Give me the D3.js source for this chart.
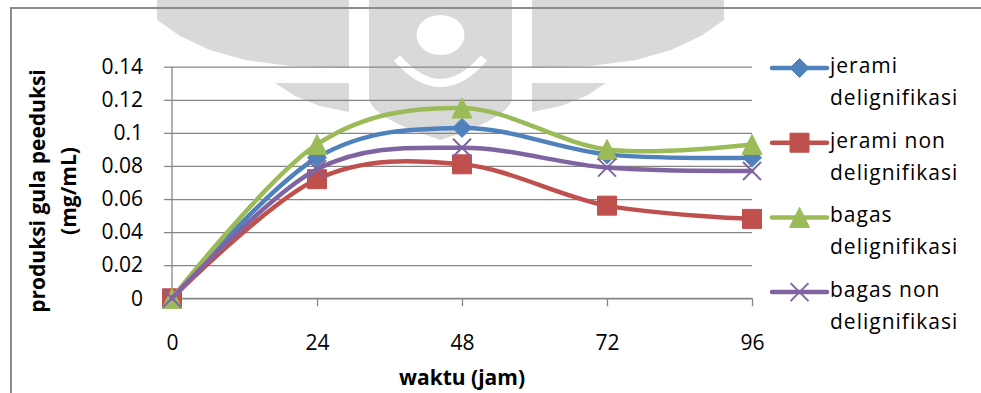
<!DOCTYPE html>
<html>
<head>
<meta charset="utf-8">
<script src="https://cdn.jsdelivr.net/npm/d3@7"></script>
<style>
  html, body { margin: 0; padding: 0; background: #fff; }
  svg { display: block; }
  text { font-family: "Open Sans", "Noto Sans", sans-serif; fill: #000; }
</style>
</head>
<body>
<div id="chart"></div>
<script>
// ---- data ----
const hours = [0, 24, 48, 72, 96];
const jeramiDelig = [0, 0.085, 0.103, 0.087, 0.085];
const jeramiNon   = [0, 0.072, 0.081, 0.056, 0.048];
const bagasDelig  = [0, 0.093, 0.115, 0.090, 0.093];
const bagasNon    = [0, 0.078, 0.091, 0.079, 0.077];
const seriesNames = [
  ['jerami', 'delignifikasi'],
  ['jerami non', 'delignifikasi'],
  ['bagas', 'delignifikasi'],
  ['bagas non', 'delignifikasi'],
];
const yTicks = [0, 0.02, 0.04, 0.06, 0.08, 0.1, 0.12, 0.14];
const xTitle = 'waktu (jam)';
const yTitle = ['produksi gula peeduksi', '(mg/mL)'];

const colors = ['#4F81BD', '#C0504D', '#9BBB59', '#8064A2'];
const markers = ['diamond', 'square', 'triangle', 'x'];
const seriesValues = [jeramiDelig, jeramiNon, bagasDelig, bagasNon];

const series = seriesValues.map((vals, i) => ({
  name: seriesNames[i],
  color: colors[i],
  marker: markers[i],
  points: vals.map((v, j) => ({ t: hours[j], v })),
}));

// ---- layout ----
const width = 981, height = 393;
const margin = { top: 66.7, right: 229, bottom: 94.7, left: 172 };
const W = width - margin.left - margin.right;
const H = height - margin.top - margin.bottom;

const x = d3.scaleLinear().domain([0, 96]).range([0, W]);
const y = d3.scaleLinear().domain([0, 0.14]).range([H, 0]);

const svg = d3.select('#chart').append('svg')
  .attr('width', width).attr('height', height);

// faint watermark behind the chart
const wm = svg.append('g').attr('fill', '#d9d9d9');
const cx = 440.5;
const mirror = pts => pts.map(([px, py]) => [2 * cx - px, py]);
const poly = pts => 'M' + pts.map(p => p.join(',')).join('L') + 'Z';
const outerWing = [[157, 0], [157, 20], [180, 36], [210, 50], [245, 60], [290, 66], [349, 68], [349, 0]];
const innerWing = [[275, 83], [349, 83], [349, 112], [320, 106], [295, 96]];
[outerWing, innerWing].forEach(p => {
  wm.append('path').attr('d', poly(p));
  wm.append('path').attr('d', poly(mirror(p)));
});
wm.append('path')
  .attr('d', 'M369,0L512,0L512,100C505,118 470,130 440.5,140C411,130 376,118 369,100Z');
wm.append('ellipse').attr('cx', cx).attr('cy', 35).attr('rx', 24).attr('ry', 20).attr('fill', '#fff');
wm.append('path').attr('d', 'M397,58Q440.5,108 484,58')
  .attr('fill', 'none').attr('stroke', '#fff').attr('stroke-width', 8);

// outer chart border (only left and top visible)
svg.append('path')
  .attr('d', `M11,${height}V8H${width}`)
  .attr('fill', 'none').attr('stroke', '#8c8c8c').attr('stroke-width', 2);

const g = svg.append('g').attr('transform', `translate(${margin.left},${margin.top})`);

// horizontal gridlines
g.append('g')
  .call(d3.axisLeft(y).tickValues(yTicks).tickSize(-W).tickFormat(''))
  .call(a => a.select('.domain').remove())
  .call(a => a.selectAll('.tick line').attr('stroke', '#868686').attr('stroke-width', 1.3));

// y axis
g.append('g')
  .call(d3.axisLeft(y).tickValues(yTicks).tickSize(8).tickPadding(21)
    .tickFormat(d => String(+d.toFixed(2))))
  .call(a => a.select('.domain').attr('stroke', '#868686').attr('stroke-width', 1.3).attr('d', `M0,0V${H}`))
  .call(a => a.selectAll('.tick line').attr('stroke', '#868686').attr('stroke-width', 1.3))
  .call(a => a.selectAll('text').attr('font-size', '21px').attr('font-family', '"Open Sans", sans-serif').attr('fill', '#000'));

// x axis
g.append('g')
  .attr('transform', `translate(0,${H})`)
  .call(d3.axisBottom(x).tickValues(hours).tickSize(8).tickPadding(29))
  .call(a => a.select('.domain').attr('stroke', '#868686').attr('stroke-width', 1.3).attr('d', `M0,0H${W}`))
  .call(a => a.selectAll('.tick line').attr('stroke', '#868686').attr('stroke-width', 1.3))
  .call(a => a.selectAll('text').attr('font-size', '21px').attr('font-family', '"Open Sans", sans-serif').attr('fill', '#000'));

// axis titles
svg.append('text')
  .attr('x', margin.left + W / 2).attr('y', 385)
  .attr('text-anchor', 'middle')
  .attr('font-size', '21px').attr('font-weight', 'bold')
  .text(xTitle);

yTitle.forEach((t, i) => {
  svg.append('text')
    .attr('transform', `translate(${45 + i * 31},191) rotate(-90)`)
    .attr('text-anchor', 'middle')
    .attr('font-size', '21px').attr('font-weight', 'bold')
    .text(t);
});

// marker shapes (size = half-width)
const shapes = {
  diamond: { draw(c, r) { c.moveTo(0, -r); c.lineTo(r, 0); c.lineTo(0, r); c.lineTo(-r, 0); c.closePath(); } },
  square: { draw(c, r) { c.rect(-r, -r, 2 * r, 2 * r); } },
  triangle: { draw(c, r) { c.moveTo(0, -r); c.lineTo(r, r); c.lineTo(-r, r); c.closePath(); } },
  x: { draw(c, r) { c.moveTo(-r, -r); c.lineTo(r, r); c.moveTo(r, -r); c.lineTo(-r, r); } },
};
const markerSize = { diamond: 9.5, square: 9.5, triangle: 10, x: 9 };

function drawMarker(sel, s) {
  const path = sel.append('path')
    .attr('d', d3.symbol(shapes[s.marker], markerSize[s.marker])());
  if (s.marker === 'x') {
    path.attr('fill', 'none').attr('stroke', s.color).attr('stroke-width', 2);
  } else {
    path.attr('fill', s.color).attr('stroke', s.color).attr('stroke-width', 1);
  }
}

const line = d3.line()
  .x(d => x(d.t))
  .y(d => y(d.v))
  .curve(d3.curveCardinal.tension(0));

// series: line then its markers, in order
series.forEach(s => {
  const sg = g.append('g');
  sg.append('path')
    .datum(s.points)
    .attr('d', line)
    .attr('fill', 'none')
    .attr('stroke', s.color)
    .attr('stroke-width', 4.5)
    .attr('stroke-linecap', 'round')
    .attr('stroke-linejoin', 'round');
  s.points.forEach(p => {
    const m = sg.append('g').attr('transform', `translate(${x(p.t)},${y(p.v)})`);
    drawMarker(m, s);
  });
});

// legend
const legend = svg.append('g').attr('transform', 'translate(772,68)');
series.forEach((s, i) => {
  const item = legend.append('g').attr('transform', `translate(0,${i * 74.7})`);
  item.append('line')
    .attr('x1', 0).attr('x2', 55).attr('y1', 0).attr('y2', 0)
    .attr('stroke', s.color).attr('stroke-width', 4.5).attr('stroke-linecap', 'round');
  drawMarker(item.append('g').attr('transform', 'translate(27.5,0)'), s);
  s.name.forEach((t, k) => {
    item.append('text')
      .attr('x', 58).attr('y', 5 + k * 32)
      .attr('font-size', '21px')
      .attr('letter-spacing', '1px')
      .text(t);
  });
});
</script>
</body>
</html>
